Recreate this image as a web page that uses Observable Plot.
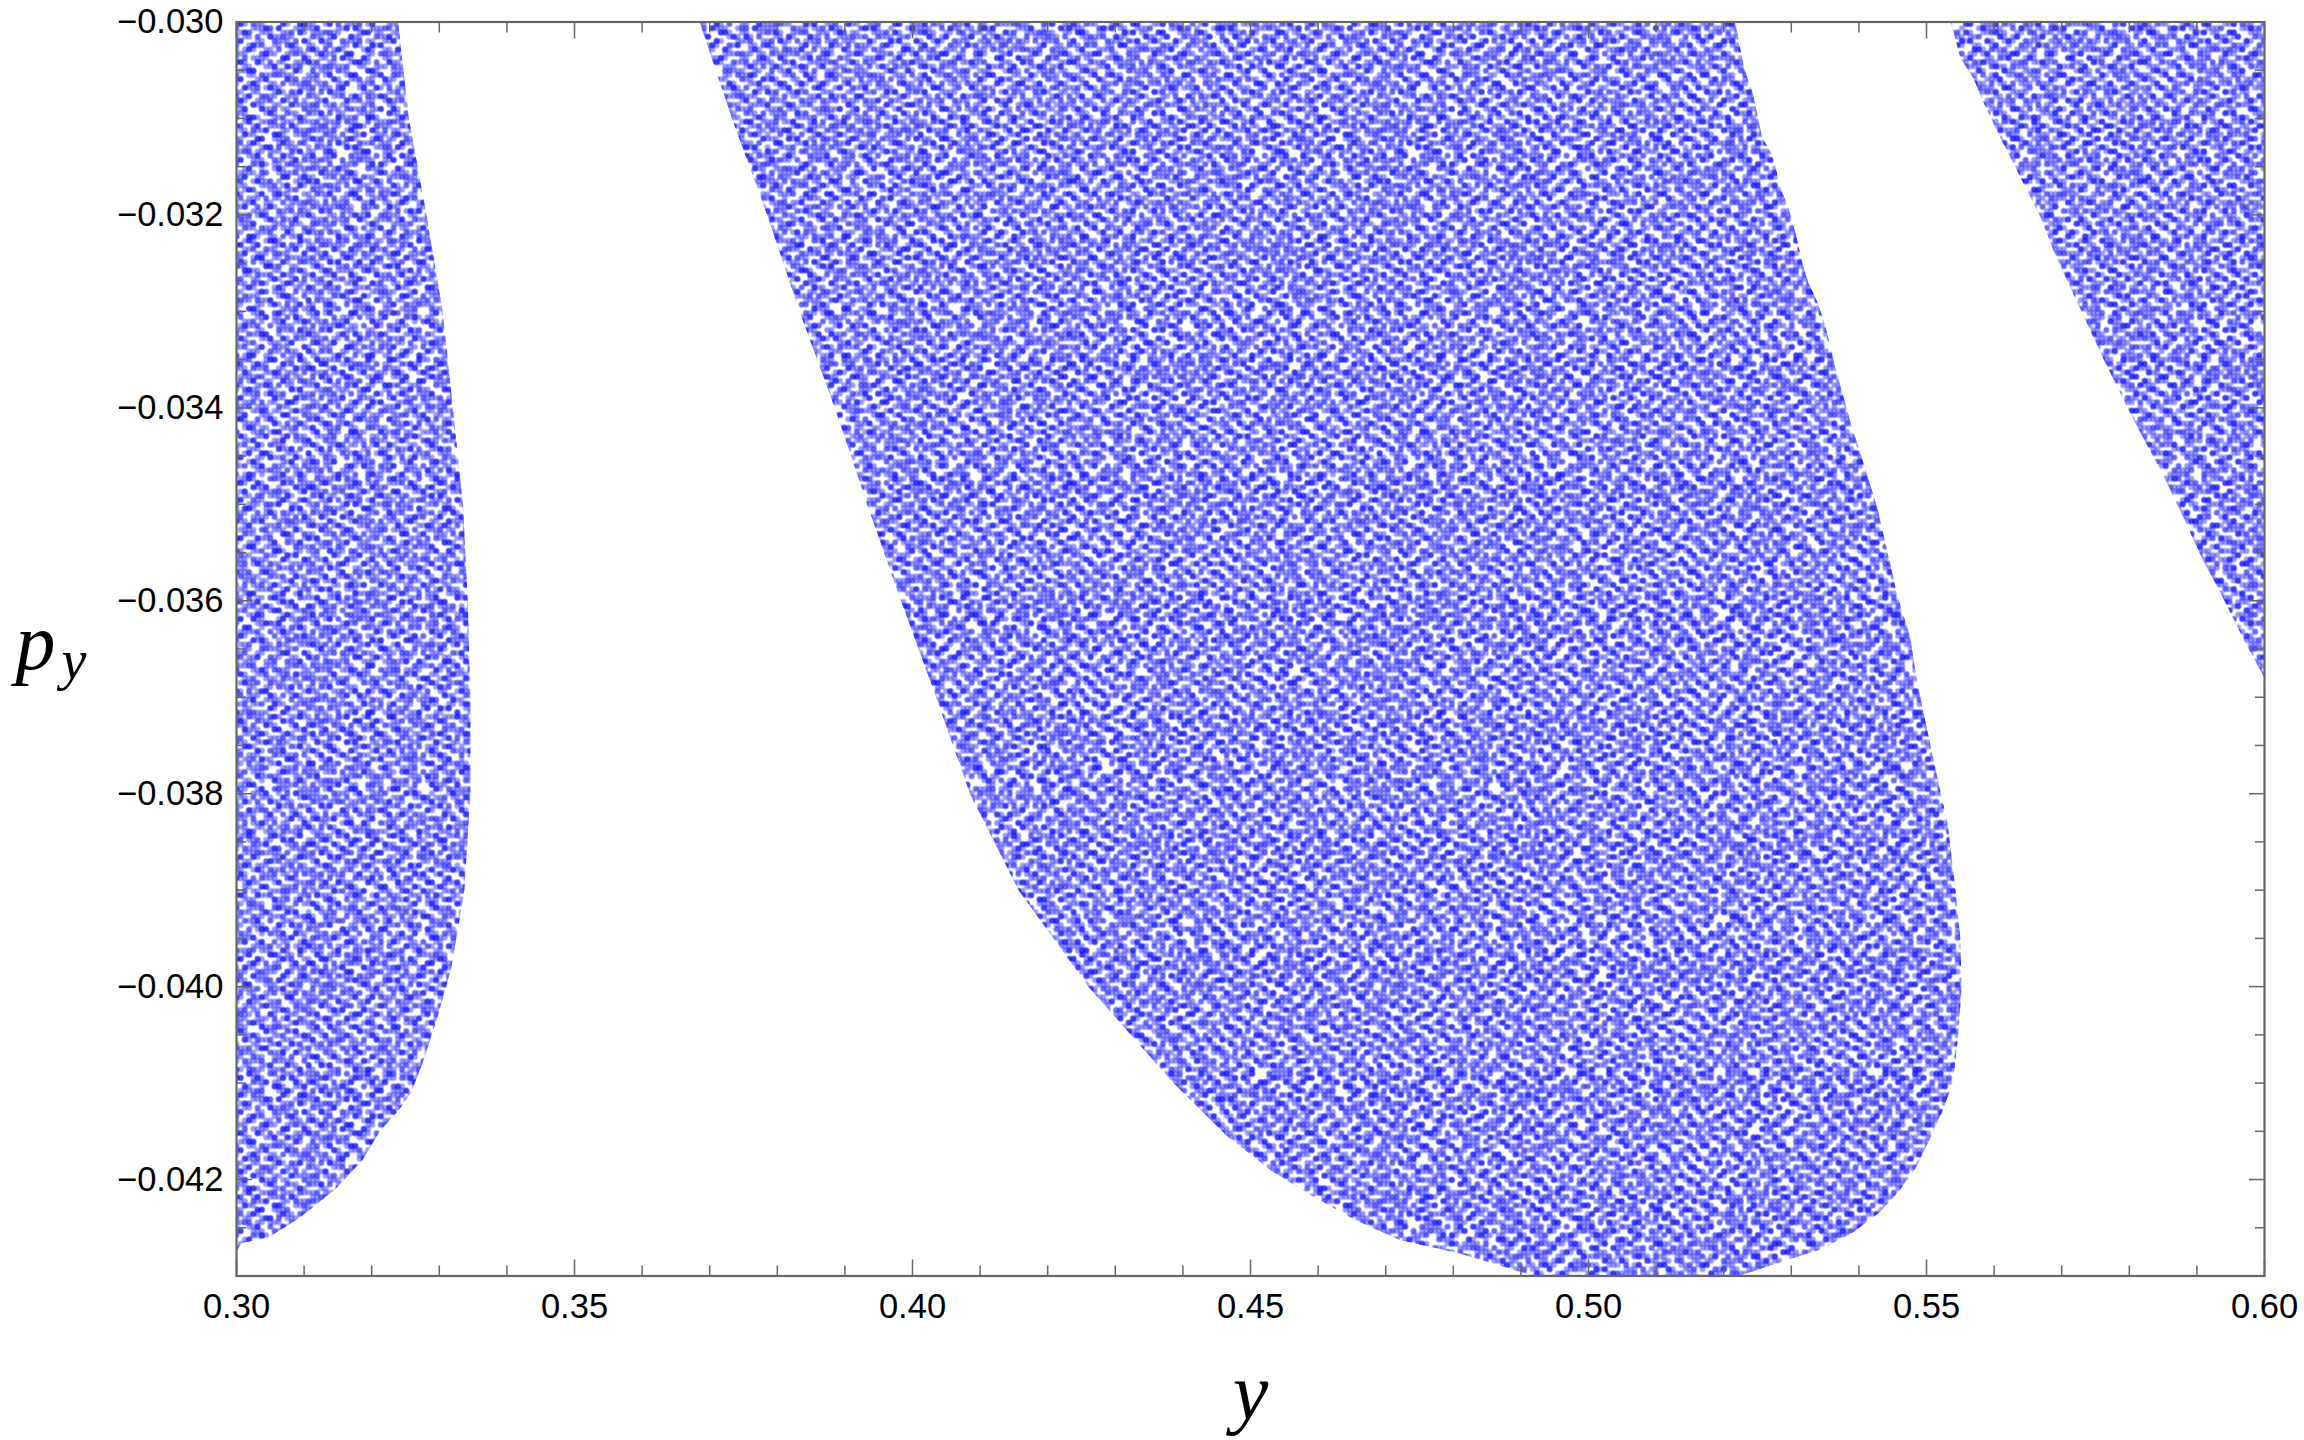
<!DOCTYPE html>
<html>
<head>
<meta charset="utf-8">
<style>html,body{margin:0;padding:0;background:#fff}svg{display:block}</style>
<script src="https://cdn.jsdelivr.net/npm/d3@7"></script>
<script src="https://cdn.jsdelivr.net/npm/@observablehq/plot@0.6"></script>
</head>
<body>
<div id="chart"></div>
<script>
// Boundary of each filled region (y, p_y).
const leftRegionY = [0.30,0.3239,0.3255,0.3281,0.3305,0.3320,0.3335,0.3342,0.3346,0.3346,0.3337,0.3318,0.3298,0.3275,0.3258,0.3238,0.3212,0.3186,0.3146,0.3093,0.3047,0.3007,0.30];
const leftRegionP = [-0.030,-0.030,-0.031,-0.032,-0.033,-0.034,-0.035,-0.036,-0.037,-0.038,-0.039,-0.0398,-0.0403,-0.0408,-0.0411,-0.0413,-0.0415,-0.0418,-0.0421,-0.0424,-0.0426,-0.04266,-0.04275];

const midRegionY = [0.3685,0.5217,0.5230,0.5243,0.5250,0.5257,0.5272,0.5284,0.5296,0.5306,0.5317,0.5325,0.5339,0.5350,0.5365,0.5388,0.5419,0.5428,0.5444,0.5456,0.5476,0.5485,0.5498,0.5519,0.5531,0.5543,0.5550,0.5552,0.5547,0.5539,0.5523,0.5504,0.5485,0.5457,0.5429,0.5391,0.5345,0.5278,0.5222,0.4920,0.4882,0.4806,0.4722,0.4655,0.4589,0.4533,0.4467,0.4386,0.4260,0.4157,0.4085,0.4035,0.3983,0.3933,0.3885,0.3833,0.3785,0.3733];
const midRegionP = [-0.030,-0.030,-0.03048,-0.03073,-0.03097,-0.0312,-0.03138,-0.03172,-0.03193,-0.03218,-0.03252,-0.0327,-0.03291,-0.03314,-0.03358,-0.03416,-0.03485,-0.03506,-0.03555,-0.03592,-0.03638,-0.03679,-0.03724,-0.03793,-0.0383,-0.0390,-0.0395,-0.0400,-0.0405,-0.0410,-0.0413,-0.04159,-0.04187,-0.04214,-0.04235,-0.04255,-0.04272,-0.04287,-0.0430,-0.0430,-0.04292,-0.04276,-0.04263,-0.04242,-0.04216,-0.04192,-0.04156,-0.0410,-0.0400,-0.0390,-0.0380,-0.0370,-0.0360,-0.0350,-0.0340,-0.0330,-0.0320,-0.0310];

const rightRegionY = [0.5536,0.60,0.60,0.5975,0.5935,0.5907,0.5877,0.5849,0.5809,0.5763,0.5724,0.5706,0.5688,0.5669,0.5649,0.5629,0.5605,0.5583,0.5570,0.5550];
const rightRegionP = [-0.030,-0.030,-0.0368,-0.03648,-0.03592,-0.03555,-0.03509,-0.03468,-0.03416,-0.03351,-0.03292,-0.03265,-0.03237,-0.03203,-0.03175,-0.03147,-0.03114,-0.03081,-0.03059,-0.03037];

const xMajor = [0.30,0.35,0.40,0.45,0.50,0.55,0.60];
const xMinor = [0.31,0.32,0.33,0.34,0.36,0.37,0.38,0.39,0.41,0.42,0.43,0.44,0.46,0.47,0.48,0.49,0.51,0.52,0.53,0.54,0.56,0.57,0.58,0.59];
const yMajor = [-0.042,-0.040,-0.038,-0.036,-0.034,-0.032,-0.030];
const yMinor = [-0.0425,-0.0415,-0.041,-0.0405,-0.0395,-0.039,-0.0385,-0.0375,-0.037,-0.0365,-0.0355,-0.035,-0.0345,-0.0335,-0.033,-0.0325,-0.0315,-0.031,-0.0305];

const poly = (xs, ps) => xs.map((x, i) => ({x, p: ps[i]}));
const regions = [poly(leftRegionY, leftRegionP), poly(midRegionY, midRegionP), poly(rightRegionY, rightRegionP)];

// Decorative stipple fill for the regions: fixed, hand-typed tiles, not data.
// Two tiles of different period are layered so that the repeat is less visible.
const stippleA = [
"110011100001111000110011100000111001",
"111011000011011100111001110001101100",
"011000001110001101100000111011000110",
"001100111100000111000110010011100111",
"000111110011000011001111000001111001",
"110011000111001100011100110000110011",
"111000011101100111000001111001000111",
"011100110000111011001100011100110011",
"001101100011100001110110000111011000",
"100111000111001100111000110001110001",
"110010001101100111000011100011001100",
"011000111000011100110111001100001110",
"001111100110001100011100001110011011",
"100110001110011000110001111000110001",
"110001100011111000011100110001100111",
"011100111000110011100110001110011100",
"000111001100001110001111000011100110",
"110011000111000111000011001100111000",
"111000110011001100111000111000011001",
"001100011100111000110011100110001110",
"100111001000110011000111001111000011",
"110001111000011100011001100011100110",
"011000110011100111000110000110011100",
"001110000111001100111100111000110001",
"100011001100011000011001110011001111",
"111001110001100111001100011100110000",
"011100011000111100011100001110001100",
"000110011110001110000111100011000111",
"110011100011000011100110011000111001",
"011000110011110001110001100111001100",
"001111000111000110001100111000110011",
"100001100001110011100111000011100110",
"111001110011000110011000110011100001",
"001100011100011001110011100001111000",
"100111000111100011000110011100011100",
"110001100001111000111000110111000110"
];
const stippleB = [
"0010000110000010001000010100",
"1000100000101000000110000001",
"0001001000000100110000100010",
"0100000011000001000010001000",
"0000110000010000010100000110",
"1001000000100011000001010000",
"0000001101000000001000000101",
"0110000000001010000011000000",
"0000100100100000010000100010",
"1000000010000101000100001000",
"0001010000011000000001000001",
"0010000001000000110010010000",
"0000011000000100000100000110",
"0100000000110001000000101000",
"1000100100000000101000000001",
"0000000010010010000011000100",
"0011000000000100010000010000",
"0000010011000000001001000011",
"1000001000010100000000100000",
"0001000000100001100010000100",
"0100100100000000010000011000",
"0000000001001010000101000000",
"0010011000000000100000001001",
"1000000100100100000010000100",
"0001000000001000011000100000",
"0100010010000001000000000110",
"0000000100010000100101000000",
"0011000000100010000000010001"
];
const pitch = 4.25, dotR = 2.9;
function stipplePattern(id, rows, opacity) {
  const ns = "http://www.w3.org/2000/svg";
  const n = rows.length, tile = n * pitch;
  const pat = document.createElementNS(ns, "pattern");
  pat.setAttribute("id", id);
  pat.setAttribute("patternUnits", "userSpaceOnUse");
  pat.setAttribute("width", tile);
  pat.setAttribute("height", tile);
  const dot = (cx, cy) => {
    const c = document.createElementNS(ns, "circle");
    c.setAttribute("cx", cx); c.setAttribute("cy", cy); c.setAttribute("r", dotR);
    c.setAttribute("fill", "#0000ff"); c.setAttribute("fill-opacity", opacity);
    pat.appendChild(c);
  };
  rows.forEach((row, j) => [...row].forEach((ch, i) => {
    if (ch !== "1") return;
    const xs = [i]; if (i === 0) xs.push(n); if (i === n - 1) xs.push(-1);
    const ys = [j]; if (j === 0) ys.push(n); if (j === n - 1) ys.push(-1);
    xs.forEach(a => ys.forEach(b => dot((a + 0.5) * pitch, (b + 0.5) * pitch)));
  }));
  return pat;
}
function addStipple(svg) {
  const defs = document.createElementNS("http://www.w3.org/2000/svg", "defs");
  defs.appendChild(stipplePattern("stippleA", stippleA, 0.4));
  defs.appendChild(stipplePattern("stippleB", stippleB, 0.6));
  svg.insertBefore(defs, svg.firstChild);
}

const frameColor = "#666666";
const noText = () => null;
const tickStyle = {tickFormat: noText, label: null, stroke: frameColor, strokeWidth: 1.5};
const chart = Plot.plot({
  width: 2304,
  height: 1440,
  marginLeft: 236,
  marginRight: 40,
  marginTop: 21.5,
  marginBottom: 164.5,
  style: {fontFamily: "'Liberation Sans', Arial, sans-serif", background: "#fff", color: "#000"},
  x: {domain: [0.30, 0.60], label: null},
  y: {domain: [-0.043, -0.030], label: null},
  marks: [
    ...regions.map(r => Plot.line(r, {x: "x", y: "p", fill: "url(#stippleA)", stroke: "none", clip: "frame"})),
    ...regions.map(r => Plot.line(r, {x: "x", y: "p", fill: "url(#stippleB)", stroke: "none", clip: "frame"})),

    Plot.axisX({anchor: "bottom", ticks: xMajor, tickSize: -16, ...tickStyle}),
    Plot.axisX({anchor: "bottom", ticks: xMinor, tickSize: -10, ...tickStyle}),
    Plot.axisX({anchor: "top", ticks: xMajor, tickSize: -16, ...tickStyle}),
    Plot.axisX({anchor: "top", ticks: xMinor, tickSize: -10, ...tickStyle}),
    Plot.axisY({anchor: "left", ticks: yMajor, tickSize: -16, ...tickStyle}),
    Plot.axisY({anchor: "left", ticks: yMinor, tickSize: -10, ...tickStyle}),
    Plot.axisY({anchor: "right", ticks: yMajor, tickSize: -16, ...tickStyle}),
    Plot.axisY({anchor: "right", ticks: yMinor, tickSize: -10, ...tickStyle}),

    Plot.axisX({anchor: "bottom", ticks: xMajor, tickSize: 0, tickPadding: 17, tickFormat: d3.format(".2f"), label: null, fontSize: 34.5, fill: "#000"}),
    Plot.axisY({anchor: "left", ticks: yMajor, tickSize: 0, tickPadding: 13, tickFormat: d3.format(".3f"), label: null, fontSize: 34.5, fill: "#000"}),

    Plot.frame({stroke: frameColor, strokeWidth: 2.2}),

    Plot.text(["y"], {frameAnchor: "bottom", dy: 143, text: d => d, fontFamily: "'Liberation Serif', serif", fontStyle: "italic", fontSize: 80, fill: "#000", lineAnchor: "bottom"}),
    Plot.text(["p"], {frameAnchor: "left", dx: -221, dy: -6, text: d => d, textAnchor: "start", fontFamily: "'Liberation Serif', serif", fontStyle: "italic", fontSize: 80, fill: "#000"}),
    Plot.text(["y"], {frameAnchor: "left", dx: -175, dy: 12, text: d => d, textAnchor: "start", fontFamily: "'Liberation Serif', serif", fontStyle: "italic", fontSize: 56, fill: "#000"})
  ]
});
addStipple(chart);
document.getElementById("chart").appendChild(chart);
</script>
</body>
</html>
